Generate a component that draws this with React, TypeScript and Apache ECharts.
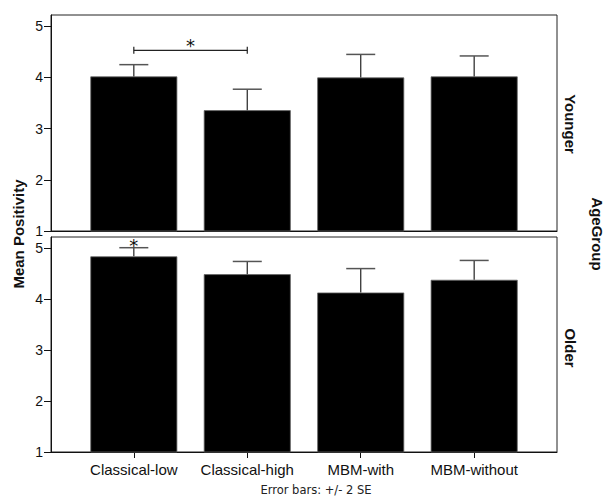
import React, { useEffect, useRef } from "react";
import * as echarts from "echarts";

const categories = ["Classical-low", "Classical-high", "MBM-with", "MBM-without"];
const youngerMeans = [4.02, 3.36, 4.0, 4.02];
const youngerErr = [0.23, 0.41, 0.45, 0.4];
const olderMeans = [4.84, 4.49, 4.13, 4.38];
const olderErr = [0.17, 0.25, 0.47, 0.38];
const yTicks = [1, 2, 3, 4, 5];
const xTicks = [0, 1, 2, 3];
// significance bracket in the Younger panel: [fromCategory, toCategory, yLevel]
const youngerBrackets = [[0, 1, 4.53]];
// asterisks: [xPosition, yLevel]
const youngerStars = [[0.5, 4.63]];
const olderStars = [[0, 5.06]];

const FONT = "'Liberation Sans', Arial, sans-serif";

function App() {
  const ref = useRef<HTMLDivElement>(null);
  useEffect(() => {
    if (!ref.current) return;
    const chart = echarts.init(ref.current, null, { renderer: "svg" });
    const grids = [
      { left: 51, top: 15, width: 506, height: 216 },
      { left: 51, top: 237, width: 506, height: 215 },
    ].map((g) => ({ ...g, show: true, borderColor: "#222", borderWidth: 1, backgroundColor: "transparent" }));

    const xAxisBase = (gi: number, showLabels: boolean) => ({
      type: "value",
      gridIndex: gi,
      min: -0.73,
      max: 3.73,
      splitLine: { show: false },
      axisLine: { show: true, onZero: false, lineStyle: { color: "#111", width: 1 } },
      axisTick: showLabels
        ? { show: true, customValues: xTicks, length: 6, lineStyle: { color: "#111" } }
        : { show: false },
      axisLabel: showLabels
        ? {
            show: true,
            customValues: xTicks,
            formatter: (v: number) => categories[Math.round(v)] ?? "",
            fontFamily: FONT,
            fontSize: 15,
            color: "#111",
            margin: 10,
          }
        : { show: false },
    });
    const yAxisBase = (gi: number) => ({
      type: "value",
      gridIndex: gi,
      min: 1,
      max: 5.22,
      interval: 1,
      splitLine: { show: false },
      axisLine: { show: true, onZero: false, lineStyle: { color: "#111", width: 1 } },
      axisTick: { show: true, customValues: yTicks, length: 7, lineStyle: { color: "#111" } },
      axisLabel: {
        show: true,
        customValues: yTicks,
        fontFamily: FONT,
        fontSize: 14,
        color: "#111",
        margin: 8,
        formatter: (v: number) => (Number.isInteger(v) ? String(v) : ""),
      },
    });

    const barSeries = (gi: number, means: number[]) => ({
      type: "bar",
      xAxisIndex: gi,
      yAxisIndex: gi,
      data: means.map((v, i) => [i, v]),
      barWidth: 87,
      clip: true,
      itemStyle: { color: "#000", borderColor: "#666", borderWidth: 0.8 },
      z: 2,
    });

    const errSeries = (gi: number, means: number[], errs: number[]) => ({
      type: "custom",
      xAxisIndex: gi,
      yAxisIndex: gi,
      data: means.map((v, i) => [i, v, errs[i]]),
      encode: { x: 0, y: 1 },
      z: 3,
      renderItem: (_p: any, api: any) => {
        const x = api.value(0);
        const m = api.value(1);
        const e = api.value(2);
        const base = api.coord([x, m]);
        const top = api.coord([x, m + e]);
        return {
          type: "group",
          children: [
            {
              type: "line",
              shape: { x1: base[0], y1: base[1], x2: top[0], y2: top[1] },
              style: { stroke: "#333", lineWidth: 1.3 },
            },
            {
              type: "line",
              shape: { x1: top[0] - 14.5, y1: top[1], x2: top[0] + 14.5, y2: top[1] },
              style: { stroke: "#555", lineWidth: 1.5 },
            },
          ],
        };
      },
    });

    const bracketSeries = (gi: number, brackets: number[][]) => ({
      type: "custom",
      xAxisIndex: gi,
      yAxisIndex: gi,
      data: brackets,
      encode: { x: 0, y: 2 },
      z: 4,
      renderItem: (_p: any, api: any) => {
        const a = api.coord([api.value(0), api.value(2)]);
        const b = api.coord([api.value(1), api.value(2)]);
        return {
          type: "group",
          children: [
            { type: "line", shape: { x1: a[0], y1: a[1], x2: b[0], y2: b[1] }, style: { stroke: "#222", lineWidth: 1.2 } },
            { type: "line", shape: { x1: a[0], y1: a[1] - 3.5, x2: a[0], y2: a[1] + 3.5 }, style: { stroke: "#222", lineWidth: 1.2 } },
            { type: "line", shape: { x1: b[0], y1: b[1] - 3.5, x2: b[0], y2: b[1] + 3.5 }, style: { stroke: "#222", lineWidth: 1.2 } },
          ],
        };
      },
    });

    const starSeries = (gi: number, stars: number[][]) => ({
      type: "custom",
      xAxisIndex: gi,
      yAxisIndex: gi,
      data: stars,
      encode: { x: 0, y: 1 },
      z: 5,
      renderItem: (_p: any, api: any) => {
        const c = api.coord([api.value(0), api.value(1)]);
        return {
          type: "text",
          x: c[0],
          y: c[1],
          style: {
            text: "*",
            fontFamily: "'DejaVu Sans', sans-serif",
            fontSize: 18,
            fill: "#111",
            align: "center",
            verticalAlign: "middle",
          },
        };
      },
    });

    const boldText = { fontFamily: FONT, fontWeight: "bold", fontSize: 15, fill: "#111", align: "center", verticalAlign: "middle" };

    chart.setOption({
      animation: false,
      backgroundColor: "#fff",
      grid: grids,
      xAxis: [xAxisBase(0, false), xAxisBase(1, true)],
      yAxis: [yAxisBase(0), yAxisBase(1)],
      series: [
        barSeries(0, youngerMeans),
        barSeries(1, olderMeans),
        errSeries(0, youngerMeans, youngerErr),
        errSeries(1, olderMeans, olderErr),
        bracketSeries(0, youngerBrackets),
        starSeries(0, youngerStars),
        starSeries(1, olderStars),
      ],
      graphic: [
        { type: "text", x: 18, y: 234, rotation: Math.PI / 2, style: { ...boldText, text: "Mean Positivity" } },
        { type: "text", x: 570, y: 124, rotation: -Math.PI / 2, style: { ...boldText, text: "Younger" } },
        { type: "text", x: 570, y: 348, rotation: -Math.PI / 2, style: { ...boldText, text: "Older" } },
        { type: "text", x: 597, y: 234, rotation: -Math.PI / 2, style: { ...boldText, text: "AgeGroup" } },
        {
          type: "text",
          x: 316,
          y: 490,
          style: {
            text: "Error bars: +/- 2 SE",
            fontFamily: "'DejaVu Sans', sans-serif",
            fontSize: 11.5,
            fill: "#222",
            align: "center",
            verticalAlign: "middle",
          },
        },
      ],
    });
    return () => chart.dispose();
  }, []);
  return <div ref={ref} style={{ position: "fixed", left: 0, top: 0, width: 604, height: 499 }} />;
}

export default App;
